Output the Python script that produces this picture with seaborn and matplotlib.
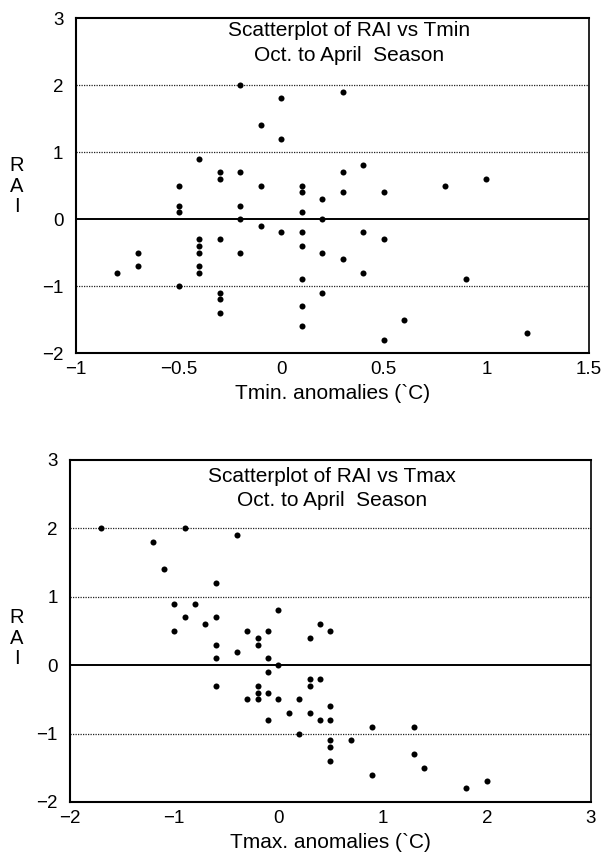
import matplotlib
matplotlib.use("Agg")
import matplotlib.pyplot as plt
import seaborn as sns
import pandas as pd

# Minimum-temperature anomalies (degC) and rainfall anomaly index, Oct-Apr season
tmin_anom = [-0.2, 0.0, 0.3, -0.1, 0.0, -0.4, 0.4, -0.3, -0.3, -0.2,
             0.3, 1.0, -0.5, -0.5, -0.5, -0.1, 0.1, 0.1, -0.2, -0.2,
             0.1, -0.1, 0.0, 0.1, 0.1, 0.1, 0.1, 0.1, -0.4, -0.4,
             -0.4, -0.4, -0.4, -0.3, -0.2, -0.7, -0.7, -0.8, -0.5, -0.3,
             -0.3, -0.3, 0.3, 0.5, 0.8, 0.2, 0.2, 0.4, 0.5, 0.2,
             0.3, 0.4, 0.9, 0.2, 0.6, 0.5, 1.2]
rai_tmin = [2.0, 1.8, 1.9, 1.4, 1.2, 0.9, 0.8, 0.7, 0.6, 0.7,
            0.7, 0.6, 0.5, 0.2, 0.1, 0.5, 0.5, 0.4, 0.2, 0.0,
            0.1, -0.1, -0.2, -0.2, -0.4, -0.9, -1.3, -1.6, -0.3, -0.4,
            -0.5, -0.7, -0.8, -0.3, -0.5, -0.5, -0.7, -0.8, -1.0, -1.1,
            -1.2, -1.4, 0.4, 0.4, 0.5, 0.3, 0.0, -0.2, -0.3, -0.5,
            -0.6, -0.8, -0.9, -1.1, -1.5, -1.8, -1.7]

# Maximum-temperature anomalies (degC) and rainfall anomaly index
tmax_anom = [-1.7, -0.9, -0.4, -1.2, -1.1, -0.6, -1.0, -0.8, 0.0, -0.9,
             -0.6, -0.7, -1.0, -0.3, -0.1, -0.2, -0.2, -0.6, -0.6, -0.4,
             -0.1, 0.0, -0.1, 0.3, 0.4, 0.5, -0.6, -0.2, -0.2, -0.2,
             -0.3, -0.1, 0.0, 0.2, 0.1, -0.1, 0.3, 0.3, 0.3, 0.4,
             0.4, 0.2, 0.5, 0.5, 0.5, 0.5, 0.5, 0.7, 0.9, 1.3,
             1.3, 1.4, 0.9, 1.8, 2.0]
rai_tmax = [2.0, 2.0, 1.9, 1.8, 1.4, 1.2, 0.9, 0.9, 0.8, 0.7,
            0.7, 0.6, 0.5, 0.5, 0.5, 0.4, 0.3, 0.3, 0.1, 0.2,
            0.1, 0.0, -0.1, 0.4, 0.6, 0.5, -0.3, -0.3, -0.4, -0.5,
            -0.5, -0.4, -0.5, -0.5, -0.7, -0.8, -0.7, -0.2, -0.3, -0.2,
            -0.8, -1.0, -0.6, -0.8, -1.1, -1.2, -1.4, -1.1, -0.9, -0.9,
            -1.3, -1.5, -1.6, -1.8, -1.7]

y_ticks = [-2, -1, 0, 1, 2, 3]
tmin_ticks = [-1, -0.5, 0, 0.5, 1, 1.5]
tmin_labels = ["\u22121", "\u22120.5", "0", "0.5", "1", "1.5"]
tmax_ticks = [-2, -1, 0, 1, 2, 3]
tmax_labels = ["\u22122", "\u22121", "0", "1", "2", "3"]
y_labels = ["\u22122", "\u22121", "0", "1", "2", "3"]

sns.set_theme(style="white")
plt.rcParams["font.family"] = ["Liberation Sans", "DejaVu Sans"]

fig = plt.figure(figsize=(6.02, 8.55), dpi=100)
ax_top = fig.add_axes([0.1262, 0.5871, 0.8522, 0.3918])
ax_bot = fig.add_axes([0.1163, 0.0620, 0.8654, 0.4000])

df_min = pd.DataFrame({"anom": tmin_anom, "rai": rai_tmin})
df_max = pd.DataFrame({"anom": tmax_anom, "rai": rai_tmax})


def style_panel(ax, xticks, xlabels, xlim, xlabel, title, title_x, title_y, rai_y):
    for yv in (-1, 1, 2):
        ax.axhline(yv, color="#222222", lw=0.9, ls=(0, (1, 1)), zorder=1)
    ax.axhline(0, color="black", lw=1.4, zorder=1)
    ax.set_xlim(*xlim)
    ax.set_ylim(-2, 3)
    ax.set_xticks(xticks)
    ax.set_xticklabels(xlabels)
    ax.set_yticks(y_ticks)
    ax.set_yticklabels(y_labels)
    ax.tick_params(axis="both", direction="in", length=5, width=1.2,
                   labelsize=13.5, colors="black")
    ax.tick_params(axis="x", pad=6)
    ax.tick_params(axis="y", length=4, pad=9)
    for name, sp in ax.spines.items():
        sp.set_visible(True)
        sp.set_color("black")
        sp.set_linewidth(1.5)
    ax.spines["right"].set_linewidth(1.2)
    ax.set_xlabel(xlabel, fontsize=15, labelpad=4, color="black")
    ax.set_ylabel("")
    ax.text(title_x, title_y, title, transform=ax.transAxes, ha="center",
            va="top", fontsize=15, linespacing=1.35, color="black")
    fig.text(17 / 602, 1 - rai_y / 855, "R\nA\nI", ha="center", va="center",
             fontsize=14.5, linespacing=1.1, color="black")


sns.scatterplot(data=df_min, x="anom", y="rai", ax=ax_top, color="black",
                marker="o", s=19, linewidth=0, zorder=3)
style_panel(ax_top, tmin_ticks, tmin_labels, (-1, 1.5),
            "Tmin. anomalies (`C)",
            "Scatterplot of RAI vs Tmin\nOct. to April  Season", 0.532, 0.99, 186)

sns.scatterplot(data=df_max, x="anom", y="rai", ax=ax_bot, color="black",
                marker="o", s=19, linewidth=0, zorder=3)
style_panel(ax_bot, tmax_ticks, tmax_labels, (-2, 3),
            "Tmax. anomalies (`C)",
            "Scatterplot of RAI vs Tmax\nOct. to April  Season", 0.503, 0.98, 638)

fig.savefig("out.png", dpi=100, facecolor="white")
